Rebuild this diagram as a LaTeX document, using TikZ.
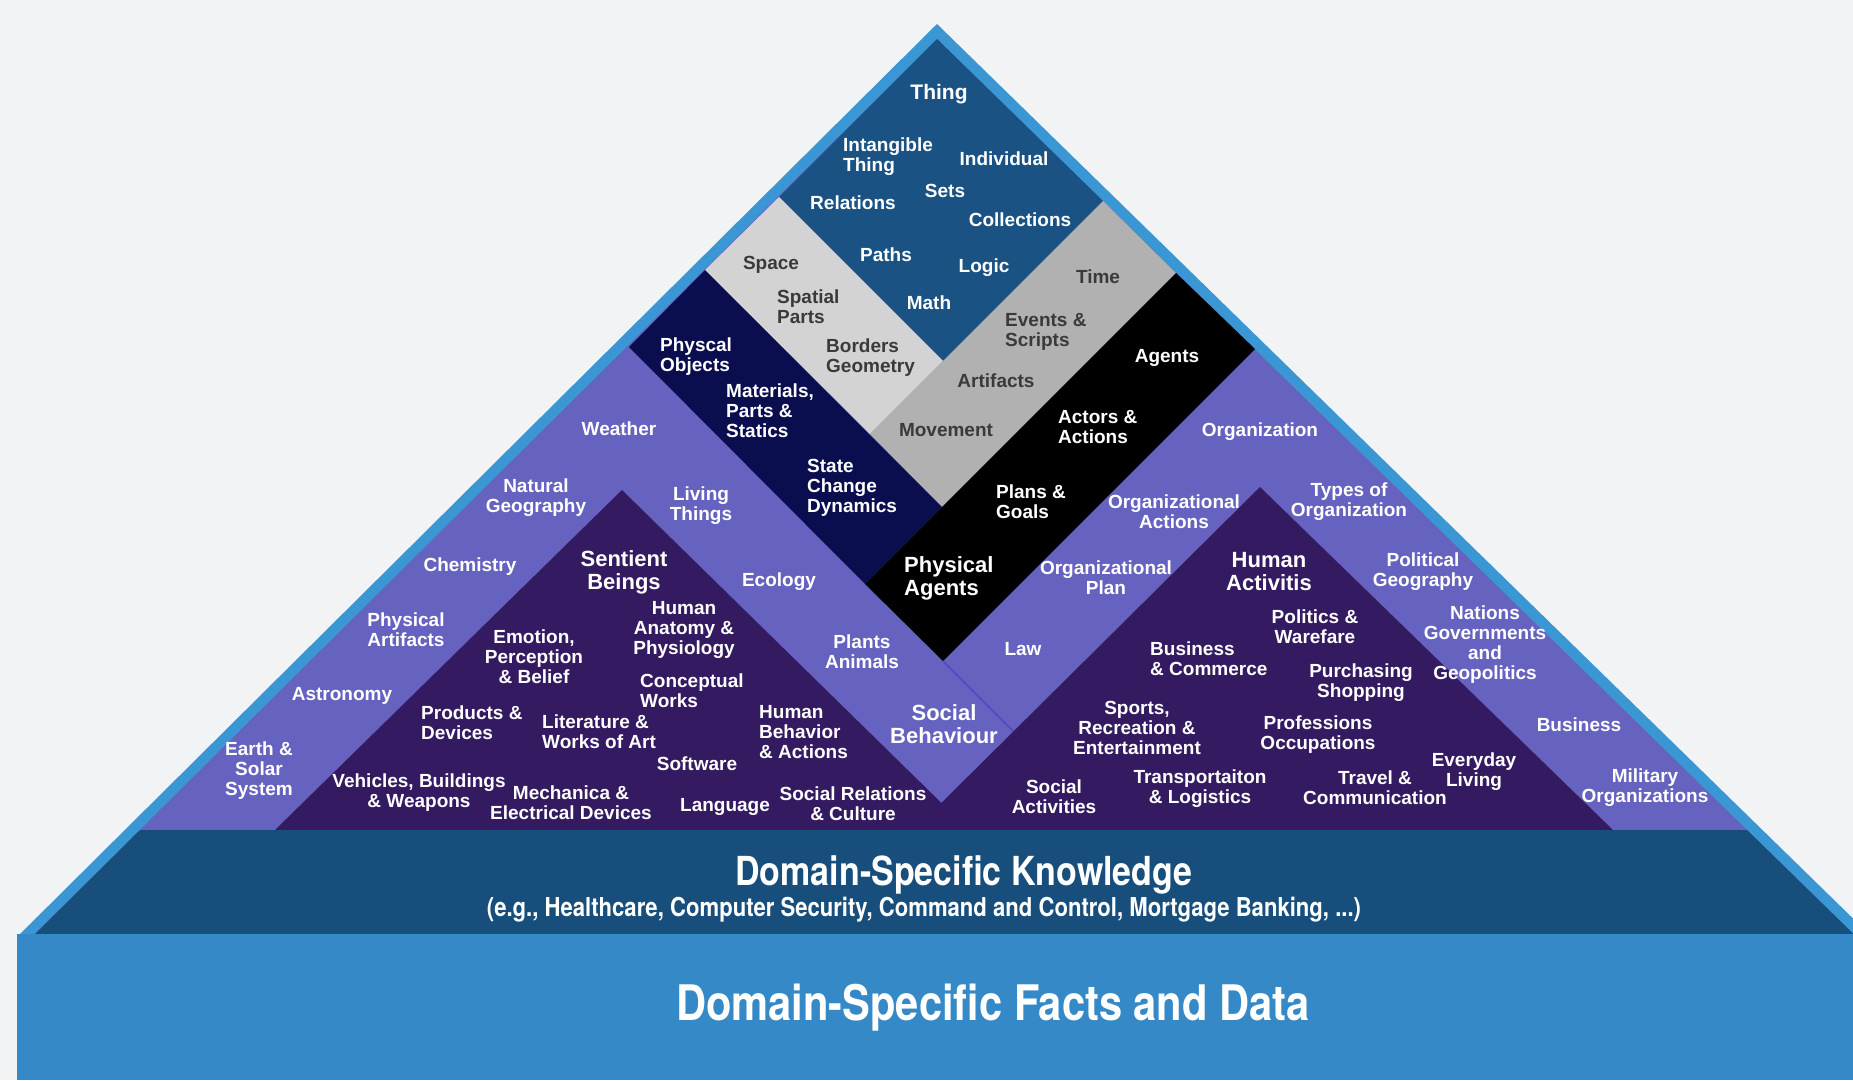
\documentclass[tikz,border=0pt]{standalone}
\usepackage{fontspec}
\setmainfont{Liberation Sans}
\newfontfamily\bandfont[FakeStretch=0.85]{TeX Gyre Heros}

\definecolor{paper}{HTML}{F2F3F5}
\definecolor{rim}{HTML}{3A97D3}
\definecolor{thingblue}{HTML}{1A5283}
\definecolor{lightgrey}{HTML}{D3D3D3}
\definecolor{midgrey}{HTML}{B1B1B1}
\definecolor{navy}{HTML}{0B0E4E}
\definecolor{lavender}{HTML}{6662BF}
\definecolor{deeppurple}{HTML}{341A60}
\definecolor{knowblue}{HTML}{174E7B}
\definecolor{factblue}{HTML}{3589C6}
\definecolor{greytext}{HTML}{3A3A3A}
\definecolor{seam}{HTML}{5546C2}

\begin{document}
\begin{tikzpicture}[x=1pt, y=-1pt,
    lbl/.style={font=\bfseries\fontsize{19}{20}\selectfont, text=white, align=center, inner sep=0pt},
    glbl/.style={lbl, text=greytext},
    biglbl/.style={lbl, font=\bfseries\fontsize{22}{23}\selectfont},
    leftlbl/.style={anchor=west, align=left}
]
    \useasboundingbox (0,0) rectangle (1853,1080);
    \clip (0,0) rectangle (1853,1080);
    \fill[paper] (0,0) rectangle (1853,1080);

    % Corner points of the layers
    \coordinate (apex) at (937,39);
    \coordinate (blueL) at (779,197);
    \coordinate (blueR) at (1103,201);
    \coordinate (blueTip) at (943,361);
    \coordinate (greyL) at (705,270);
    \coordinate (greyR) at (1176,273);
    \coordinate (greyTip) at (942,507);
    \coordinate (greySplit) at (870,434);
    \coordinate (agentL) at (629,347);
    \coordinate (agentR) at (1255,349);
    \coordinate (agentTip) at (943,661);
    \coordinate (agentSplit) at (865,584);
    \coordinate (seamEnd) at (1013,731);

    % Outer rim and body
    \fill[rim] (937,24) -- (1872,937) -- (17,937) -- cycle;
    \fill[lavender] (apex) -- (1853.5,934) -- (35,934) -- cycle;

    % Upper layers
    \fill[thingblue] (apex) -- (blueR) -- (blueTip) -- (blueL) -- cycle;
    \fill[lightgrey] (blueL) -- (blueTip) -- (greySplit) -- (greyL) -- cycle;
    \fill[midgrey] (blueTip) -- (blueR) -- (greyR) -- (greyTip) -- (greySplit) -- cycle;
    \fill[navy] (greyL) -- (greyTip) -- (agentSplit) -- (agentL) -- cycle;
    \fill[black] (greyTip) -- (greyR) -- (agentR) -- (agentTip) -- (agentSplit) -- cycle;
    \draw[seam, line width=1.5pt] (agentTip) -- (seamEnd);

    % Two purple pyramids
    \fill[deeppurple] (622,490) -- (969,830) -- (275,830) -- cycle;
    \fill[deeppurple] (1260,487) -- (1613,830) -- (914,830) -- cycle;

    % Bottom bands
    \fill[knowblue] (140,830) -- (1747,830) -- (1853.5,934) -- (35,934) -- cycle;
    \fill[factblue] (17,934) rectangle (1853,1080);

    % Thing
    \node[lbl, font=\bfseries\fontsize{21}{22}\selectfont] (thing) at (939,94) {Thing};
    \node[lbl, leftlbl] (intangible) at (843,157) {Intangible\\Thing};
    \node[lbl] (individual) at (1004,159) {Individual};
    \node[lbl] (sets) at (945,191) {Sets};
    \node[lbl] (relations) at (853,203) {Relations};
    \node[lbl] (collections) at (1020,220) {Collections};
    \node[lbl] (paths) at (886,255) {Paths};
    \node[lbl] (logic) at (984,268) {Logic};
    \node[lbl] (math) at (929,303) {Math};

    % Space and time
    \node[glbl] (space) at (771,265) {Space};
    \node[glbl, leftlbl] (spatial) at (777,307) {Spatial\\Parts};
    \node[glbl, leftlbl] (borders) at (826,358) {Borders\\Geometry};
    \node[glbl] (time) at (1098,277) {Time};
    \node[glbl, leftlbl] (events) at (1005,332) {Events \&\\Scripts};
    \node[glbl] (artifacts) at (996,381) {Artifacts};
    \node[glbl] (movement) at (946,430) {Movement};

    % Objects and agents
    \node[lbl, leftlbl] (objects) at (660,357) {Physcal\\Objects};
    \node[lbl, leftlbl] (materials) at (726,411) {Materials,\\Parts \&\\Statics};
    \node[lbl, leftlbl] (state) at (807,488) {State\\Change\\Dynamics};
    \node[lbl] (agents) at (1167,358) {Agents};
    \node[lbl, leftlbl] (actors) at (1058,427) {Actors \&\\Actions};
    \node[lbl, leftlbl] (plans) at (996,502) {Plans \&\\Goals};
    \node[biglbl, leftlbl] (physagents) at (904,578) {Physical\\Agents};

    % Left side of the middle layer
    \node[lbl] (weather) at (619,429) {Weather};
    \node[lbl] (natgeo) at (536,498) {Natural\\Geography};
    \node[lbl] (living) at (701,506) {Living\\Things};
    \node[lbl] (chemistry) at (470,567) {Chemistry};
    \node[lbl] (physart) at (406,630) {Physical\\Artifacts};
    \node[lbl] (astronomy) at (342,696) {Astronomy};
    \node[lbl] (earth) at (259,771) {Earth \&\\Solar\\System};
    \node[lbl] (ecology) at (779,582) {Ecology};
    \node[lbl] (plants) at (862,652) {Plants\\Animals};
    \node[biglbl] (social) at (944,724) {Social\\Behaviour};

    % Right side of the middle layer
    \node[lbl] (organization) at (1260,432) {Organization};
    \node[lbl] (orgactions) at (1174,512) {Organizational\\Actions};
    \node[lbl] (types) at (1349,502) {Types of\\Organization};
    \node[lbl] (orgplan) at (1106,578) {Organizational\\Plan};
    \node[lbl] (polgeo) at (1423,572) {Political\\Geography};
    \node[lbl] (law) at (1023,649) {Law};
    \node[lbl] (nations) at (1485,645) {Nations\\Governments\\and\\Geopolitics};
    \node[lbl] (business) at (1579,725) {Business};
    \node[lbl] (military) at (1645,788) {Military\\Organizations};

    % Sentient beings
    \node[biglbl] (sentient) at (624,572) {Sentient\\Beings};
    \node[lbl] (anatomy) at (684,630) {Human\\Anatomy \&\\Physiology};
    \node[lbl] (emotion) at (534,657) {Emotion,\\Perception\\\& Belief};
    \node[lbl, leftlbl] (conceptual) at (640,691) {Conceptual\\Works};
    \node[lbl, leftlbl] (products) at (421,723) {Products \&\\Devices};
    \node[lbl, leftlbl] (literature) at (542,732) {Literature \&\\Works of Art};
    \node[lbl, leftlbl] (behavior) at (759,732) {Human\\Behavior\\\& Actions};
    \node[lbl] (software) at (697,764) {Software};
    \node[lbl] (vehicles) at (419,793) {Vehicles, Buildings\\\& Weapons};
    \node[lbl] (mechanica) at (571,803) {Mechanica \&\\Electrical Devices};
    \node[lbl] (language) at (725,807) {Language};
    \node[lbl] (relcult) at (853,804) {Social Relations\\\& Culture};

    % Human activities
    \node[biglbl] (activitis) at (1269,572) {Human\\Activitis};
    \node[lbl] (politics) at (1315,627) {Politics \&\\Warefare};
    \node[lbl, leftlbl] (commerce) at (1150,659) {Business\\\& Commerce};
    \node[lbl] (purchasing) at (1361,683) {Purchasing\\Shopping};
    \node[lbl] (sports) at (1137,728) {Sports,\\Recreation \&\\Entertainment};
    \node[lbl] (professions) at (1318,735) {Professions\\Occupations};
    \node[lbl] (everyday) at (1474,772) {Everyday\\Living};
    \node[lbl] (socact) at (1054,797) {Social\\Activities};
    \node[lbl] (transport) at (1200,789) {Transportaiton\\\& Logistics};
    \node[lbl] (travel) at (1375,788) {Travel \&\\Communication};

    % Domain bands
    \node[text=white, inner sep=0pt, font=\bandfont\bfseries\fontsize{40}{42}\selectfont] (knowledge) at (964,875) {Domain-Specific Knowledge};
    \node[text=white, inner sep=0pt, font=\bandfont\bfseries\fontsize{26}{28}\selectfont] (examples) at (924,910) {(e.g., Healthcare, Computer Security, Command and Control, Mortgage Banking, ...)};
    \node[text=white, inner sep=0pt, font=\bandfont\bfseries\fontsize{49}{51}\selectfont] (facts) at (993,1008) {Domain-Specific Facts and Data};
\end{tikzpicture}
\end{document}
